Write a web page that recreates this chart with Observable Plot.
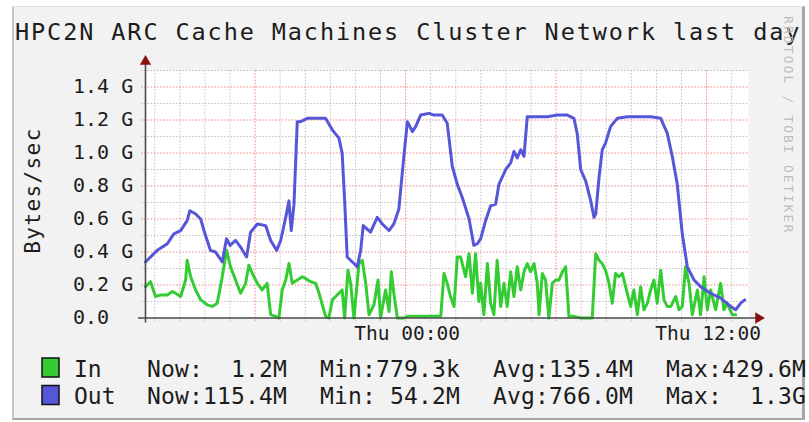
<!DOCTYPE html>
<html><head><meta charset="utf-8">
<script src="https://cdn.jsdelivr.net/npm/d3@7"></script>
<script src="https://cdn.jsdelivr.net/npm/@observablehq/plot@0.6"></script>
<style>
html,body{margin:0;padding:0;background:#fff;}
#wrap{position:relative;width:809px;height:422px;overflow:hidden;}
#bg{position:absolute;left:12px;top:6px;width:788px;height:411px;background:#f2f2f2;border-left:2px solid #c6c6c6;border-top:1px solid #e2e2e2;border-right:3px solid #a8a8a8;border-bottom:2px solid #a8a8a8;}
#chart{position:absolute;left:0;top:0;}
svg text{white-space:pre;}
</style></head><body>
<div id="wrap"><div id="bg"></div><div id="chart"></div></div>
<script>
const title = "HPC2N ARC Cache Machines Cluster Network last day";
const yLabel = "Bytes/sec";
const watermark = "RRDTOOL / TOBI OETIKER";
const xDomainHours = [-10.37, 13.67];
const xTickHours = [0, 12];
const xTickLabels = ["Thu 00:00", "Thu 12:00"];
const yTicks = [0, 0.2, 0.4, 0.6, 0.8, 1.0, 1.2, 1.4];
const yTickLabels = ["0.0", "0.2 G", "0.4 G", "0.6 G", "0.8 G", "1.0 G", "1.2 G", "1.4 G"];
const seriesNames = ["In", "Out"];
const seriesColors = ["#33cc33", "#5656d8"];
const legendStats = [
  ["Now:  1.2M", "Min:779.3k", "Avg:135.4M", "Max:429.6M"],
  ["Now:115.4M", "Min: 54.2M", "Avg:766.0M", "Max:  1.3G"]
];
// hours relative to Thu 00:00, values in G bytes/sec
const outHours = [-10.37,-10.30,-9.90,-9.50,-9.24,-8.97,-8.71,-8.60,-8.37,-8.17,-8.04,-7.91,-7.78,-7.58,-7.31,-7.14,-7.00,-6.78,-6.58,-6.34,-6.18,-5.91,-5.58,-5.38,-5.14,-4.98,-4.78,-4.65,-4.56,-4.45,-4.32,-4.19,-3.92,-3.52,-3.19,-2.92,-2.66,-2.53,-2.43,-2.33,-2.06,-1.93,-1.79,-1.69,-1.40,-1.13,-0.93,-0.66,-0.47,-0.27,-0.07,0.07,0.27,0.40,0.60,0.93,1.13,1.46,1.66,1.86,2.06,2.26,2.53,2.72,2.86,2.99,3.19,3.39,3.59,3.72,3.99,4.19,4.32,4.45,4.59,4.72,4.85,5.25,5.65,6.05,6.45,6.71,6.84,6.98,7.18,7.38,7.51,7.58,7.71,7.84,7.97,8.17,8.44,8.84,9.24,9.77,10.17,10.43,10.63,10.83,11.03,11.23,11.50,11.76,12.16,12.56,12.96,13.16,13.36,13.52];
const outValues = [0.34,0.35,0.41,0.45,0.51,0.53,0.59,0.65,0.63,0.60,0.53,0.47,0.41,0.40,0.34,0.48,0.44,0.47,0.43,0.37,0.52,0.57,0.56,0.47,0.41,0.47,0.61,0.71,0.53,0.69,1.19,1.19,1.21,1.21,1.21,1.14,1.09,1.00,0.71,0.37,0.33,0.31,0.41,0.56,0.52,0.61,0.57,0.53,0.57,0.66,0.98,1.19,1.13,1.16,1.23,1.24,1.23,1.23,1.18,0.92,0.81,0.73,0.60,0.44,0.45,0.48,0.59,0.68,0.69,0.81,0.90,0.94,1.01,0.97,1.02,0.98,1.22,1.22,1.22,1.23,1.23,1.21,1.12,0.90,0.83,0.71,0.61,0.63,0.85,1.02,1.06,1.16,1.21,1.22,1.22,1.22,1.21,1.12,0.98,0.81,0.51,0.31,0.23,0.19,0.15,0.12,0.07,0.05,0.09,0.11];
const inSeries = [[-10.37,0.19],[-10.17,0.22],[-9.97,0.13],[-9.77,0.14],[-9.50,0.14],[-9.30,0.16],[-9.17,0.15],[-8.97,0.13],[-8.77,0.23],[-8.71,0.35],[-8.57,0.25],[-8.37,0.17],[-8.17,0.11],[-7.91,0.08],[-7.71,0.07],[-7.51,0.09],[-7.31,0.25],[-7.14,0.41],[-6.98,0.31],[-6.78,0.23],[-6.58,0.15],[-6.38,0.21],[-6.25,0.32],[-6.11,0.27],[-5.91,0.21],[-5.72,0.17],[-5.52,0.21],[-5.38,0.02],[-5.18,0.01],[-5.05,0.00],[-4.92,0.17],[-4.78,0.23],[-4.65,0.33],[-4.52,0.21],[-4.32,0.23],[-4.12,0.25],[-3.99,0.24],[-3.79,0.22],[-3.59,0.21],[-3.45,0.15],[-3.32,0.08],[-3.19,0.01],[-3.06,0.00],[-2.92,0.11],[-2.79,0.13],[-2.66,0.15],[-2.53,0.17],[-2.43,0.00],[-2.30,0.29],[-2.19,0.21],[-2.06,0.00],[-1.86,0.33],[-1.73,0.35],[-1.59,0.21],[-1.46,0.02],[-1.26,0.08],[-1.10,0.23],[-1.00,0.00],[-0.80,0.17],[-0.66,0.04],[-0.57,0.28],[-0.47,0.15],[-0.33,0.00],[-0.07,0.00],[0.07,0.01],[0.73,0.01],[1.40,0.01],[1.53,0.27],[1.66,0.21],[1.79,0.13],[1.93,0.07],[2.06,0.37],[2.19,0.37],[2.39,0.25],[2.53,0.39],[2.66,0.15],[2.79,0.39],[2.92,0.10],[2.99,0.21],[3.12,0.02],[3.26,0.33],[3.39,0.09],[3.52,0.02],[3.65,0.35],[3.79,0.07],[3.92,0.21],[4.05,0.07],[4.19,0.28],[4.32,0.13],[4.45,0.31],[4.59,0.17],[4.72,0.28],[4.85,0.33],[4.98,0.28],[5.12,0.33],[5.25,0.21],[5.32,0.02],[5.45,0.27],[5.58,0.23],[5.71,0.00],[5.85,0.21],[5.98,0.23],[6.11,0.23],[6.25,0.28],[6.38,0.31],[6.51,0.01],[6.71,0.01],[6.98,0.00],[7.44,0.00],[7.58,0.39],[7.71,0.35],[7.84,0.33],[7.97,0.29],[8.11,0.21],[8.24,0.09],[8.37,0.27],[8.50,0.25],[8.64,0.27],[8.77,0.19],[8.97,0.07],[9.10,0.17],[9.24,0.02],[9.37,0.19],[9.50,0.05],[9.64,0.09],[9.77,0.17],[9.90,0.23],[10.03,0.09],[10.17,0.29],[10.30,0.11],[10.43,0.07],[10.57,0.07],[10.77,0.13],[10.90,0.05],[11.03,0.07],[11.16,0.31],[11.30,0.21],[11.43,0.02],[11.63,0.17],[11.76,0.02],[11.90,0.25],[12.03,0.05],[12.16,0.17],[12.36,0.05],[12.56,0.21],[12.69,0.05],[12.82,0.09],[13.02,0.02],[13.16,0.02]];

const mono = "DejaVu Sans Mono";
const outData = outHours.map((h, i) => ({h, v: outValues[i]}));
const inData = inSeries.map(([h, v]) => ({h, v}));
const hourGrid = d3.range(-10, 14);
const minorX = hourGrid.filter(h => h % 6 !== 0);
const majorX = hourGrid.filter(h => h % 6 === 0);
const minorY = [0.1, 0.3, 0.5, 0.7, 0.9, 1.1, 1.3, 1.5];
const majorY = yTicks.filter(v => v > 0);
const gridGray = "#c4c4c4", gridRed = "#f08a8a";
const dash = "1.6,1.6";

const svg = Plot.plot({
  width: 809, height: 422,
  marginLeft: 145, marginRight: 61, marginTop: 70, marginBottom: 104.5,
  style: {background: "transparent", overflow: "visible"},
  x: {domain: xDomainHours, label: null},
  y: {domain: [0, 1.5], label: null},
  marks: [
    Plot.frame({fill: "white", stroke: null}),
    Plot.ruleY(minorY, {stroke: gridGray, strokeDasharray: dash, insetLeft: -4}),
    Plot.ruleX(minorX, {stroke: gridGray, strokeDasharray: dash, insetBottom: -4}),
    Plot.ruleY(majorY, {stroke: gridRed, strokeDasharray: dash, insetLeft: -4}),
    Plot.ruleX(majorX, {stroke: gridRed, strokeDasharray: dash, insetBottom: -4}),
    Plot.line(inData, {x: "h", y: "v", stroke: seriesColors[0], strokeWidth: 3}),
    Plot.line(outData, {x: "h", y: "v", stroke: seriesColors[1], strokeWidth: 3}),
    Plot.ruleY([0], {stroke: "#4a4a4a", strokeWidth: 1.6, insetLeft: -7, insetRight: -8}),
    Plot.ruleX([xDomainHours[0]], {stroke: "#4a4a4a", strokeWidth: 1.6, insetTop: -8, insetBottom: -5}),
    Plot.dot([{h: xDomainHours[0], v: 1.5}], {x: "h", y: "v", symbol: "triangle", r: 4.2, fill: "#8b1010", stroke: null, dy: -9}),
    Plot.dot([{h: xDomainHours[1], v: 0}], {x: "h", y: "v", symbol: "triangle", r: 4.2, fill: "#8b1010", stroke: null, dx: 10, rotate: 90}),
    Plot.axisY({ticks: yTicks, tickFormat: d => yTickLabels[yTicks.findIndex(t => Math.abs(t - d) < 1e-9)],
      tickSize: 0, tickPadding: 0, textAnchor: "start", dx: -72.5, fontSize: 20, fontFamily: mono, fill: "#1c1c1c"}),
    Plot.axisX({ticks: xTickHours, tickFormat: d => xTickLabels[xTickHours.indexOf(d)],
      tickSize: 0, tickPadding: 8.5, dx: 1.5, fontSize: 19.5, fontFamily: mono, fill: "#1c1c1c"})
  ]
});
document.getElementById("chart").appendChild(svg);

const s = d3.select(svg);
const deco = s.append("g").attr("font-family", mono).attr("fill", "#1c1c1c").attr("text-anchor", "start");
deco.append("text").attr("x", 15).attr("y", 40).attr("font-size", 23.5).attr("letter-spacing", 1.9).text(title);
deco.append("text").attr("transform", "translate(784,16) rotate(90)").attr("font-size", 13)
  .attr("letter-spacing", 2.1).attr("fill", "#bdbdbd").text(watermark);
deco.append("text").attr("transform", "translate(40,190.5) rotate(-90)").attr("text-anchor", "middle")
  .attr("font-size", 21).attr("letter-spacing", 1.4).text(yLabel);

const rowBase = [376.5, 404];
seriesNames.forEach((name, i) => {
  deco.append("rect").attr("x", 42).attr("y", rowBase[i] - 18.5).attr("width", 17).attr("height", 19)
    .attr("fill", seriesColors[i]).attr("stroke", "#111").attr("stroke-width", 1.5);
  deco.append("text").attr("x", 74).attr("y", rowBase[i]).attr("font-size", 23).text(name);
  legendStats[i].forEach((t, k) => {
    deco.append("text").attr("x", 147 + 173 * k).attr("y", rowBase[i]).attr("font-size", 23)
      .attr("letter-spacing", 0.15).text(t);
  });
});
</script>
</body></html>
